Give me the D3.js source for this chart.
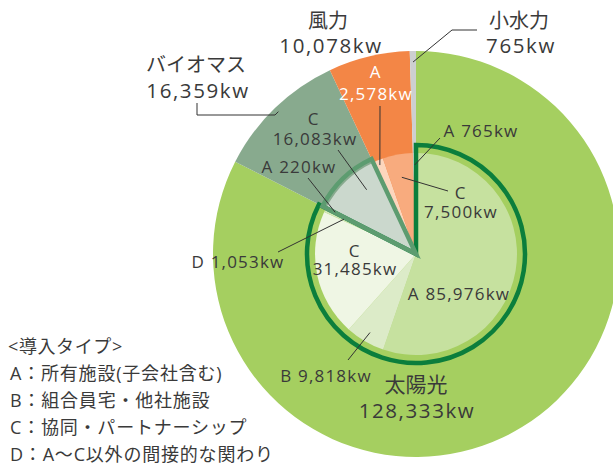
<!DOCTYPE html>
<html>
<head>
<meta charset="utf-8">
<title>導入タイプ別 発電容量</title>
<script src="https://cdn.jsdelivr.net/npm/d3@7/dist/d3.min.js"></script>
<style>
body { margin: 0; background: #fff; }
svg text { font-family: "Open Sans", "Noto Sans CJK JP", sans-serif; fill: #3a3a3a; }
.leader { fill: none; stroke: #333; stroke-width: 1; }
</style>
</head>
<body>
<svg width="613" height="470"></svg>
<script>
// outer ring: energy source totals (kw)
var sources = ["太陽光", "バイオマス", "風力", "小水力"];
var sourceTotals = [128333, 16359, 10078, 765];
var sourceColors = ["#a5cf60", "#88aa8e", "#f38646", "#cdcfd1"];

// inner pie: type breakdown per source, clockwise
var subSource = ["太陽光", "太陽光", "太陽光", "太陽光", "バイオマス", "バイオマス", "風力", "風力", "小水力"];
var subType   = ["A", "B", "C", "D", "A", "C", "A", "C", "A"];
var subValues = [85976, 9818, 31485, 1053, 220, 16083, 2578, 7500, 765];
var subColors = ["#c6e19f", "#dcebc8", "#eff6e4", "#d3e7b8", "#cbd8cd", "#cbd8cd", "#fcd6bd", "#f8ab7e", "#e1e2e3"];

var legendTitle = "<導入タイプ>";
var legendLines = [
  "A：所有施設(子会社含む)",
  "B：組合員宅・他社施設",
  "C：協同・パートナーシップ",
  "D：A〜C以外の間接的な関わり"
];

var fmt = d3.format(",d");
var svg = d3.select("svg");
var cx = 416, cy = 254, R = 203, r = 101;
var g = svg.append("g").attr("transform", "translate(" + cx + "," + cy + ")");

var total = d3.sum(sourceTotals);
var ang = d3.scaleLinear().domain([0, total]).range([0, 2 * Math.PI]);

function polar(a, rad) { return [rad * Math.sin(a), -rad * Math.cos(a)]; }

// outer slices
var outer = [], acc = 0;
sources.forEach(function(s, i) {
  outer.push({name: s, value: sourceTotals[i], startAngle: ang(acc), endAngle: ang(acc + sourceTotals[i]), color: sourceColors[i]});
  acc += sourceTotals[i];
});
var outerArc = d3.arc().innerRadius(0).outerRadius(R);
g.selectAll("path.outer").data(outer).enter().append("path")
  .attr("class", "outer")
  .attr("d", outerArc)
  .attr("fill", function(d) { return d.color; });

// inner slices, each placed inside its source's angular span
var inner = [];
var cursor = {};
outer.forEach(function(o) { cursor[o.name] = o.startAngle; });
subValues.forEach(function(v, i) {
  var s = subSource[i];
  var a0 = cursor[s], a1 = a0 + ang(v);
  cursor[s] = a1;
  inner.push({source: s, type: subType[i], value: v, startAngle: a0, endAngle: a1, color: subColors[i]});
});
var innerArc = d3.arc().innerRadius(0).outerRadius(r);
g.selectAll("path.inner").data(inner).enter().append("path")
  .attr("class", "inner")
  .attr("d", innerArc)
  .attr("fill", function(d) { return d.color; });

// outlines around solar and biomass inner sectors
var solar = outer[0], bio = outer[1];
g.append("path")
  .attr("d", d3.arc().innerRadius(0).outerRadius(109)({startAngle: solar.startAngle, endAngle: solar.endAngle}))
  .attr("fill", "none").attr("stroke", "#0b7e3c").attr("stroke-width", 4.5).attr("stroke-linejoin", "miter");
g.append("path")
  .attr("d", d3.arc().innerRadius(0).outerRadius(105)({startAngle: bio.startAngle, endAngle: bio.endAngle}))
  .attr("fill", "none").attr("stroke", "#5d9c70").attr("stroke-width", 4.5).attr("stroke-linejoin", "miter");

function mid(d) { return (d.startAngle + d.endAngle) / 2; }
function findInner(s, t) { return inner.filter(function(d) { return d.source === s && d.type === t; })[0]; }

// leader lines: label-side points in page coords, slice end from arc angle
function leader(pts, slice, rad, angle) {
  var p = polar(angle !== undefined ? angle : mid(slice), rad);
  var all = pts.map(function(q) { return [q[0] - cx, q[1] - cy]; }).concat([p]);
  g.append("path").attr("class", "leader").attr("d", d3.line()(all));
}
leader([[477, 30], [452, 30]], outer[3], 192);
leader([[197, 103], [197, 115], [275, 115]], outer[1], 198);
leader([[380, 106]], findInner("風力", "A"), 96);
leader([[440, 138]], findInner("小水力", "A"), 89);
leader([[448, 191]], findInner("風力", "C"), 78);
leader([[338, 150]], findInner("バイオマス", "C"), 81, mid(findInner("バイオマス", "C")) + 0.11);
leader([[308, 178]], findInner("バイオマス", "A"), 91);
leader([[278, 252]], findInner("太陽光", "D"), 80);
leader([[348, 360]], findInner("太陽光", "B"), 91);

// text helper
function label(x, y, text, size, color, anchor, spacing) {
  var t = svg.append("text")
    .attr("x", x).attr("y", y)
    .attr("text-anchor", anchor || "middle")
    .style("font-size", size + "px")
    .style("letter-spacing", (spacing || 0) + "px")
    .text(text);
  if (color) t.style("fill", color);
  return t;
}

// outer source labels
var bs = 20.5, bsp = 1.6;
label(328, 28, sources[2], 20);
label(331, 53, fmt(sourceTotals[2]) + "kw", bs, null, null, bsp);
label(519, 28, sources[3], 20);
label(521, 53, fmt(sourceTotals[3]) + "kw", bs, null, null, bsp);
label(196, 72, sources[1], 20);
label(198, 98, fmt(sourceTotals[1]) + "kw", bs, null, null, bsp);
label(416, 392, sources[0], 21);
label(417, 418, fmt(sourceTotals[0]) + "kw", bs, null, null, bsp);

// inner type labels
var wA = findInner("風力", "A"), wC = findInner("風力", "C");
var bA = findInner("バイオマス", "A"), bC = findInner("バイオマス", "C");
var sA = findInner("太陽光", "A"), sB = findInner("太陽光", "B"), sC = findInner("太陽光", "C"), sD = findInner("太陽光", "D");
var hA = findInner("小水力", "A");
var fs = 17, sp = 1.2;
label(375, 78, wA.type, fs, "#fff");
label(376, 100, fmt(wA.value) + "kw", fs, "#fff", null, sp);
label(481, 137, hA.type + " " + fmt(hA.value) + "kw", fs, null, null, sp);
label(460, 199, wC.type, fs);
label(461, 218, fmt(wC.value) + "kw", fs, null, null, sp);
label(313, 125, bC.type, fs);
label(315, 145, fmt(bC.value) + "kw", fs, null, null, sp);
label(299, 173, bA.type + " " + fmt(bA.value) + "kw", fs, null, null, sp);
label(238, 268, sD.type + " " + fmt(sD.value) + "kw", fs, null, null, sp);
label(354, 257, sC.type, fs);
label(355, 275, fmt(sC.value) + "kw", fs, null, null, sp);
label(459, 300, sA.type + " " + fmt(sA.value) + "kw", fs, null, null, sp);
label(326, 382, sB.type + " " + fmt(sB.value) + "kw", fs, null, null, sp);

// legend
label(8, 353, legendTitle, 18, null, "start", 0.6);
legendLines.forEach(function(l, i) {
  label(10, 380 + i * 27, l, 18, null, "start", 0.8);
});
</script>
</body>
</html>
